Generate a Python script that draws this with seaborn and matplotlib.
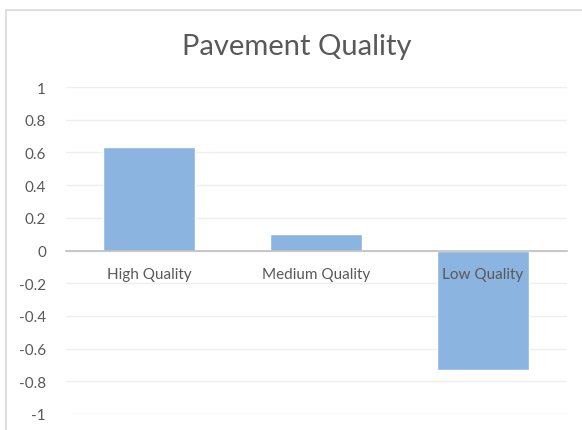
import matplotlib
matplotlib.use("Agg")
import matplotlib.pyplot as plt
import seaborn as sns
import pandas as pd
from matplotlib.patches import Rectangle

categories = ["High Quality", "Medium Quality", "Low Quality"]
values = [0.63, 0.10, -0.73]
yticks = [1, 0.8, 0.6, 0.4, 0.2, 0, -0.2, -0.4, -0.6, -0.8, -1]
ytick_labels = ["1", "0.8", "0.6", "0.4", "0.2", "0", "-0.2", "-0.4", "-0.6", "-0.8", "-1"]

df = pd.DataFrame({"category": categories, "value": values})

sns.set_theme(style="white")
plt.rcParams["font.family"] = ["Lato", "DejaVu Sans"]

fig = plt.figure(figsize=(5.82, 4.31), dpi=100)
ax = fig.add_axes([65.5 / 582, 1 - 415 / 431, (566.5 - 65.5) / 582, (415 - 88) / 431])

# chart frame
fig.patches.append(Rectangle((6 / 582, -0.1), 1.2, 1 - 11 / 431 + 0.1,
                             transform=fig.transFigure, fill=False,
                             edgecolor="#d9d9d9", linewidth=1.2))

sns.barplot(data=df, x="category", y="value", color="#8cb4e1", width=0.55,
            saturation=1, ax=ax, zorder=2)

ax.set_ylim(-1, 1)
ax.set_xlim(-0.5, 2.5)
ax.set_yticks(yticks)
ax.set_yticklabels(ytick_labels)
ax.yaxis.grid(True, color="#eeeeee", linewidth=1)
ax.set_axisbelow(True)
for s in ["top", "right", "left"]:
    ax.spines[s].set_visible(False)
ax.spines["bottom"].set_position(("data", 0))
ax.spines["bottom"].set_color("#bfbfbf")
ax.spines["bottom"].set_linewidth(1.2)
ax.spines["bottom"].set_zorder(3)
ax.set_xlabel("")
ax.set_ylabel("")
ax.tick_params(axis="y", length=0, pad=14, labelsize=11, labelcolor="#595959")
ax.tick_params(axis="x", length=0, labelbottom=False)

# category labels sit just under the zero line, drawn over the bars
for i, cat in enumerate(categories):
    ax.annotate(cat, xy=(i, 0), xytext=(0, -12), textcoords="offset points",
                ha="center", va="top", fontsize=11, color="#595959", zorder=5)

fig.text(297 / 582, 1 - 47 / 431, "Pavement Quality", ha="center", va="center",
         fontsize=21, color="#595959")

fig.savefig("out.png", dpi=100)
